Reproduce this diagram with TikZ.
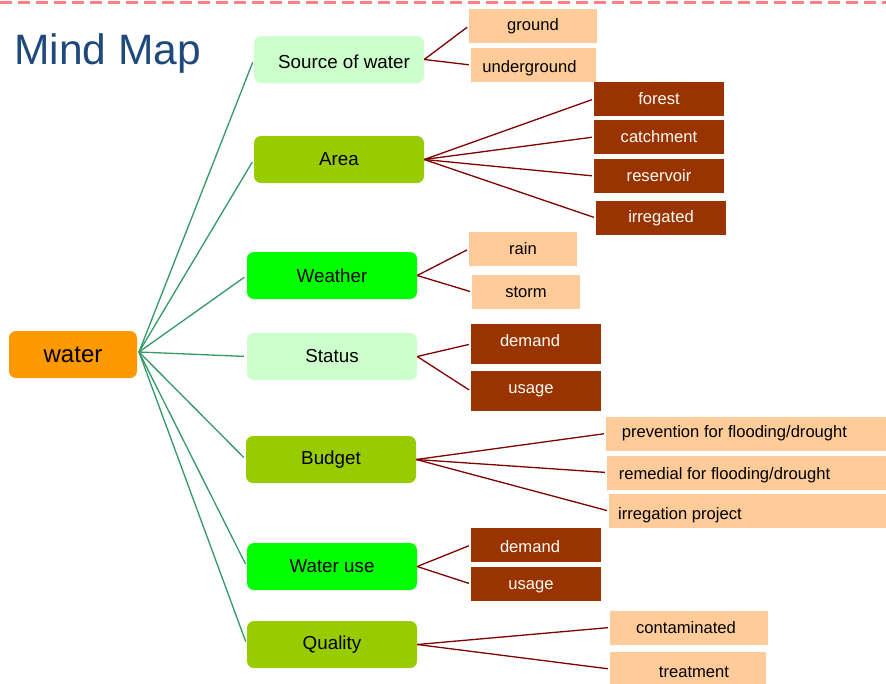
\documentclass[tikz,border=0pt]{standalone}
\usepackage{fontspec}
\setmainfont{Liberation Sans}
\definecolor{titleblue}{RGB}{31,73,125}
\definecolor{rootorange}{RGB}{255,153,0}
\definecolor{palegreen}{RGB}{204,255,204}
\definecolor{olivegreen}{RGB}{153,204,0}
\definecolor{brightgreen}{RGB}{0,255,0}
\definecolor{peach}{RGB}{255,204,153}
\definecolor{rust}{RGB}{153,51,0}
\definecolor{linkgreen}{RGB}{51,153,102}
\definecolor{linkred}{RGB}{128,0,0}
\definecolor{dashpink}{RGB}{255,128,128}
\newcommand\shiftdown[2]{\raisebox{-#1}[\height][\depth]{#2}}
\begin{document}
\begin{tikzpicture}[x=1pt,y=-1pt,
  mainbox/.style={rounded corners=7pt, minimum width=170pt, minimum height=47pt, inner sep=0pt, font=\fontsize{18.8}{20}\selectfont, text=black},
  leafbox/.style={minimum height=34pt, inner sep=0pt, font=\fontsize{16.6}{18}\selectfont},
  lightleaf/.style={leafbox, fill=peach, text=black},
  darkleaf/.style={leafbox, fill=rust, text=white!92!peach},
  glink/.style={draw=linkgreen, line width=1.3pt, shorten >=3pt},
  rlink/.style={draw=linkred, line width=1.3pt, shorten >=2pt}]
\useasboundingbox (0,0) rectangle (886,683);
\fill[white] (0,0) rectangle (886,683);
\draw[dashpink, line width=3.5pt, dash pattern=on 12pt off 6pt] (0,2.5) -- (886,2.5);
\node[anchor=base west, inner sep=0pt, text=titleblue, font=\fontsize{42.5}{44}\selectfont] (title) at (14,64) {Mind Map};

\node[mainbox, fill=rootorange, minimum width=128pt, font=\fontsize{24}{26}\selectfont] (water) at (73,354.5) {water};

\node[mainbox, fill=palegreen] (src) at (339,59.5) {\shiftdown{2.5pt}{\hspace*{10pt}Source of water}};
\node[mainbox, fill=olivegreen] (area) at (339,159.5) {Area};
\node[mainbox, fill=brightgreen] (weather) at (332,275.5) {Weather};
\node[mainbox, fill=palegreen] (status) at (332,356.5) {Status};
\node[mainbox, fill=olivegreen] (budget) at (331,459.5) {Budget};
\node[mainbox, fill=brightgreen] (wateruse) at (332,566.5) {Water use};
\node[mainbox, fill=olivegreen] (quality) at (332,644.5) {Quality};

\node[lightleaf, minimum width=128pt] (ground) at (533,26) {ground};
\node[lightleaf, minimum width=125pt] (underground) at (533.5,65) {\shiftdown{3pt}{underground\hspace*{8pt}}};
\node[darkleaf, minimum width=130pt] (forest) at (659,99) {forest};
\node[darkleaf, minimum width=130pt] (catchment) at (659,137) {catchment};
\node[darkleaf, minimum width=130pt] (reservoir) at (659,176) {reservoir};
\node[darkleaf, minimum width=130pt] (irregated) at (661,218) {irregated};
\node[lightleaf, minimum width=108pt] (rain) at (523,249) {rain};
\node[lightleaf, minimum width=108pt] (storm) at (526,292) {storm};
\node[darkleaf, minimum width=130pt, minimum height=40pt] (demanda) at (536,344) {\shiftdown{-3pt}{demand\hspace*{12pt}}};
\node[darkleaf, minimum width=130pt, minimum height=40pt] (usagea) at (536,391) {usage\hspace*{10pt}};
\node[lightleaf, minimum width=280pt] (prevention) at (746,433.5) {\hspace*{1pt}prevention for flooding/drought\hspace*{24pt}};
\node[lightleaf, minimum width=279pt] (remedial) at (746.5,472.5) {\shiftdown{2.5pt}{remedial for flooding/drought\hspace*{44pt}}};
\node[lightleaf, minimum width=277pt] (irrproj) at (747.5,511) {\shiftdown{4pt}{irregation project\hspace*{135pt}}};
\node[darkleaf, minimum width=130pt] (demandb) at (536,545) {\shiftdown{2pt}{demand\hspace*{12pt}}};
\node[darkleaf, minimum width=130pt] (usageb) at (536,584) {\shiftdown{3pt}{usage\hspace*{10pt}}};
\node[lightleaf, minimum width=158pt] (contaminated) at (689,627.5) {contaminated\hspace*{6pt}};
\node[lightleaf, minimum width=156pt] (treatment) at (688,669) {\shiftdown{3pt}{\hspace*{12pt}treatment}};

\coordinate (hub) at (139,352);
\foreach \t in {src,area,weather,status,budget,wateruse,quality}
  \draw[glink] (hub) -- (\t.west);

\draw[rlink] (src.east) -- (ground.west);
\draw[rlink] (src.east) -- (underground.west);
\foreach \t in {forest,catchment,reservoir,irregated}
  \draw[rlink] (area.east) -- (\t.west);
\draw[rlink] (weather.east) -- (rain.west);
\draw[rlink] (weather.east) -- (storm.west);
\draw[rlink] (status.east) -- (demanda.west);
\draw[rlink] (status.east) -- (usagea.west);
\foreach \t in {prevention,remedial,irrproj}
  \draw[rlink] (budget.east) -- (\t.west);
\draw[rlink] (wateruse.east) -- (demandb.west);
\draw[rlink] (wateruse.east) -- (usageb.west);
\draw[rlink] (quality.east) -- (contaminated.west);
\draw[rlink] (quality.east) -- (treatment.west);
\end{tikzpicture}
\end{document}
